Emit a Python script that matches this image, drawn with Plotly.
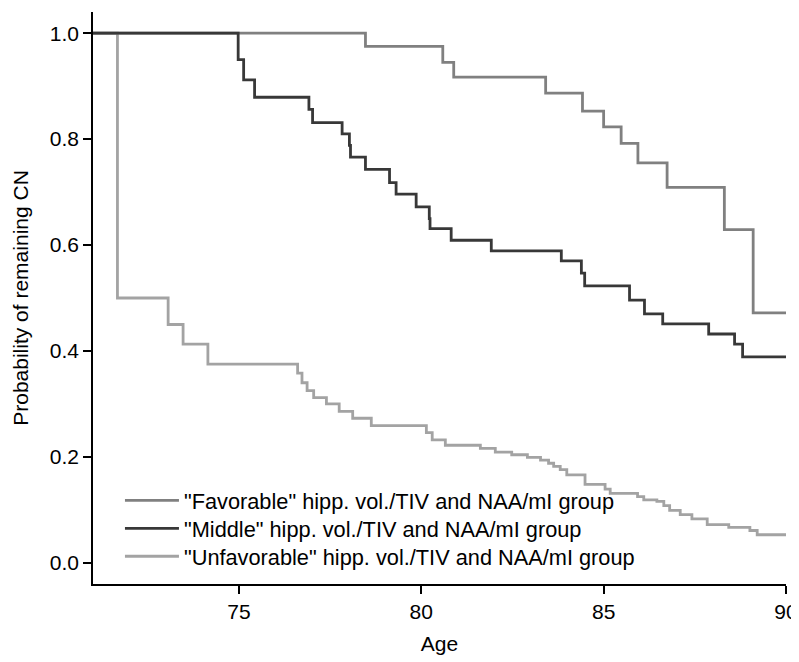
import plotly.graph_objects as go

# Kaplan-Meier step data
fav_age = [71, 78.47, 80.59, 80.89, 83.41, 84.42, 85.0, 85.48, 85.94, 86.74, 88.31, 89.10, 90]
fav_surv = [1.0, 0.975, 0.945, 0.917, 0.887, 0.853, 0.823, 0.792, 0.755, 0.709, 0.629, 0.472, 0.472]

mid_age = [71, 74.98, 75.13, 75.43, 76.92, 77.02, 77.83, 78.03, 78.06, 78.47, 79.13, 79.31, 79.86,
           80.22, 80.24, 80.82, 81.92, 83.84, 84.39, 84.48, 85.71, 86.12, 86.62, 87.88, 88.59, 88.81, 90]
mid_surv = [1.0, 0.950, 0.912, 0.879, 0.856, 0.831, 0.810, 0.788, 0.766, 0.743, 0.718, 0.696, 0.672,
            0.650, 0.631, 0.609, 0.589, 0.570, 0.547, 0.523, 0.496, 0.470, 0.451, 0.432, 0.413, 0.389, 0.389]

unf_age = [71, 71.67, 73.06, 73.47, 74.15, 76.61, 76.73, 76.87, 77.05, 77.40, 77.75, 78.12, 78.63,
           80.14, 80.30, 80.66, 81.62, 82.03, 82.48, 82.91, 83.27, 83.49, 83.63, 83.81, 83.99, 84.49,
           85.04, 85.18, 85.93, 86.10, 86.46, 86.65, 86.81, 87.10, 87.42, 87.84, 88.43, 89.01, 89.21, 90]
unf_surv = [1.0, 0.50, 0.45, 0.413, 0.375, 0.358, 0.340, 0.325, 0.312, 0.300, 0.286, 0.273, 0.259,
            0.246, 0.232, 0.222, 0.216, 0.209, 0.204, 0.199, 0.194, 0.188, 0.182, 0.176, 0.166, 0.148,
            0.139, 0.131, 0.125, 0.119, 0.116, 0.108, 0.099, 0.091, 0.083, 0.072, 0.067, 0.061, 0.053, 0.053]

series_names = ['"Favorable" hipp. vol./TIV and NAA/mI group',
                '"Middle" hipp. vol./TIV and NAA/mI group',
                '"Unfavorable" hipp. vol./TIV and NAA/mI group']
series_colors = ["#808080", "#383838", "#a3a3a3"]

x_ticks = [75, 80, 85, 90]
y_ticks = [0.0, 0.2, 0.4, 0.6, 0.8, 1.0]
y_ticklabels = ["0.0", "0.2", "0.4", "0.6", "0.8", "1.0"]

FONT = "Liberation Sans, Arial, Helvetica, sans-serif"

fig = go.Figure()
# one legend per group so that the row spacing can match the reference
legend_ids = ["legend", "legend2", "legend3"]
order = [(unf_age, unf_surv, 2), (fav_age, fav_surv, 0), (mid_age, mid_surv, 1)]
for xs, ys, i in order:
    fig.add_trace(go.Scatter(x=xs, y=ys, mode="lines", line_shape="hv",
                             line=dict(color=series_colors[i], width=2.8),
                             name=series_names[i], legend=legend_ids[i],
                             hoverinfo="skip"))

legend_tops = [0.1824, 0.1335, 0.0846]
legend_common = dict(x=0.0389, xanchor="left", yanchor="top", bgcolor="rgba(0,0,0,0)",
                     font=dict(size=21.75, family=FONT), itemwidth=54)

fig.update_layout(
    width=791, height=654,
    margin=dict(l=85, r=13, t=3.5, b=77.5, autoexpand=False),
    plot_bgcolor="white", paper_bgcolor="white",
    font=dict(family=FONT, size=21, color="black"),
    showlegend=True,
    legend=dict(y=legend_tops[0], **legend_common),
    legend2=dict(y=legend_tops[1], **legend_common),
    legend3=dict(y=legend_tops[2], **legend_common),
    xaxis=dict(range=[71, 90], tickvals=x_ticks, showgrid=False, zeroline=False,
               showline=True, linecolor="black", linewidth=1.6,
               ticks="outside", ticklen=8, tickwidth=1.6, tickcolor="black",
               tickfont=dict(size=21),
               title=dict(text="Age", standoff=14, font=dict(size=21))),
    yaxis=dict(range=[-0.04, 1.04], tickvals=y_ticks, ticktext=y_ticklabels,
               showgrid=False, zeroline=False,
               showline=True, linecolor="black", linewidth=1.6,
               ticks="outside", ticklen=8, tickwidth=1.6, tickcolor="black",
               tickfont=dict(size=21),
               title=dict(text="Probability of remaining CN", standoff=15, font=dict(size=21))),
)

fig.write_html("out.html")
